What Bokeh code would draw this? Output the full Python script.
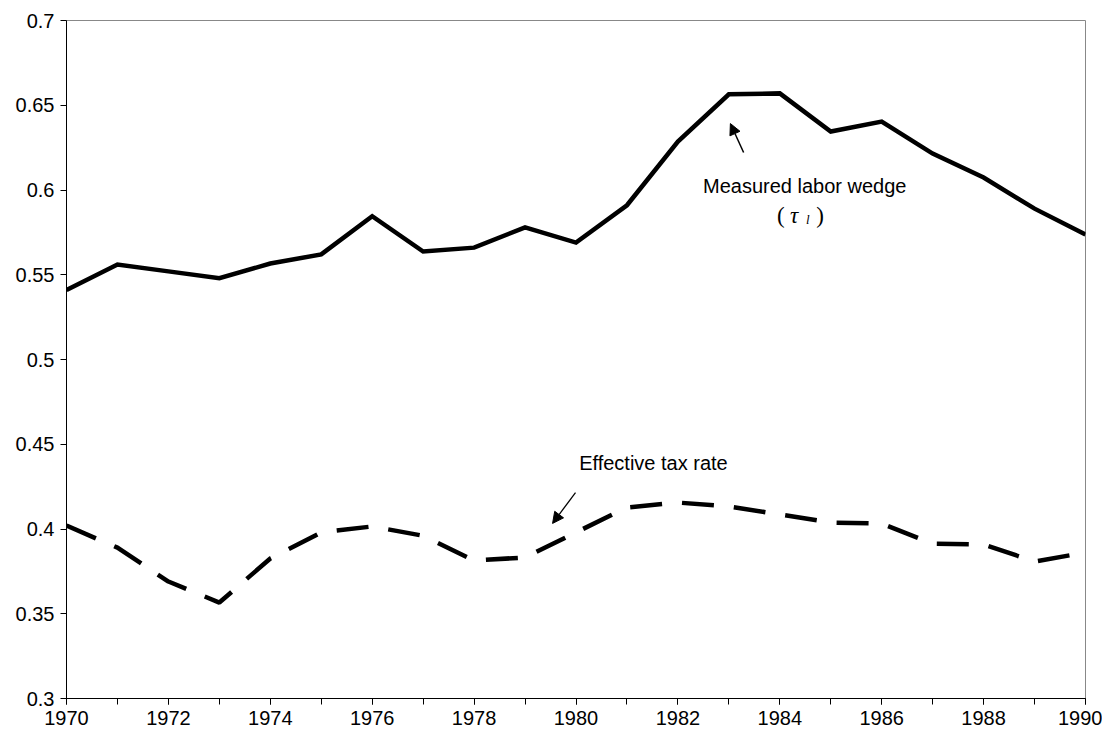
from bokeh.plotting import figure
from bokeh.models import (SingleIntervalTicker, FixedTicker, CustomJSTickFormatter,
                          Arrow, NormalHead, Range1d)
from bokeh.core.properties import value
from bokeh.embed import file_html
from bokeh.resources import INLINE

years = list(range(1970, 1991))
labor_wedge = [0.541, 0.556, 0.552, 0.548, 0.5566, 0.562, 0.5845, 0.5637, 0.566, 0.578,
               0.569, 0.591, 0.6286, 0.6565, 0.657, 0.6345, 0.6404, 0.6215, 0.6074, 0.589, 0.5737]
tax_rate = [0.402, 0.389, 0.369, 0.3566, 0.3826, 0.398, 0.4015, 0.396, 0.3814, 0.3832,
            0.398, 0.4127, 0.4156, 0.4133, 0.4086, 0.4038, 0.4032, 0.3914, 0.3909, 0.3808, 0.3861]
y_ticks = [0.3, 0.35, 0.4, 0.45, 0.5, 0.55, 0.6, 0.65, 0.7]

FONT = "Liberation Sans"

p = figure(width=1102, height=730, output_backend="svg", toolbar_location=None,
           x_range=Range1d(1970, 1990), y_range=Range1d(0.3, 0.7),
           min_border_left=66, min_border_right=17, min_border_top=20, min_border_bottom=32)

p.background_fill_color = "white"
p.border_fill_color = "white"
p.outline_line_color = "#888888"
p.outline_line_width = 1
p.xgrid.visible = False
p.ygrid.visible = False

p.xaxis.ticker = SingleIntervalTicker(interval=2, num_minor_ticks=2)
p.yaxis.ticker = FixedTicker(ticks=y_ticks)
p.yaxis.formatter = CustomJSTickFormatter(code="return String(Math.round(tick*100)/100);")
for ax in (p.xaxis, p.yaxis):
    ax.axis_line_color = "black"
    ax.axis_line_width = 1
    ax.major_tick_line_color = "black"
    ax.minor_tick_line_color = "black"
    ax.major_tick_in = 0
    ax.major_tick_out = 6
    ax.minor_tick_in = 0
    ax.minor_tick_out = 6
    ax.major_label_text_font = FONT
    ax.major_label_text_font_size = "20px"
    ax.major_label_text_color = "black"
p.yaxis.minor_tick_line_color = None
p.xaxis.major_label_standoff = 6
p.yaxis.major_label_standoff = 6

p.line(years, labor_wedge, line_color="black", line_width=4.5, line_join="miter")
p.line(years, tax_rate, line_color="black", line_width=4.5, line_dash="32 20")

# annotations
p.text(x=[1984.49], y=[0.6021], text=["Measured labor wedge"], text_font=value(FONT),
       text_font_size="20px", text_align="center", text_baseline="middle", text_color="black")
p.text(x=[1984.02, 1984.79], y=[0.5850, 0.5850], text=["(", ")"], text_font=value("Liberation Serif"),
       text_font_size="23px", text_align="center", text_baseline="alphabetic", text_color="black")
p.text(x=[1984.28], y=[0.5850], text=["τ"], text_font=value("Liberation Serif"), text_font_style="italic",
       text_font_size="23px", text_align="center", text_baseline="alphabetic", text_color="black")
p.text(x=[1984.55], y=[0.5826], text=["l"], text_font=value("Liberation Serif"), text_font_style="italic",
       text_font_size="13px", text_align="center", text_baseline="alphabetic", text_color="black")
p.text(x=[1981.52], y=[0.4392], text=["Effective tax rate"], text_font=value(FONT),
       text_font_size="20px", text_align="center", text_baseline="middle", text_color="black")

p.add_layout(Arrow(x_start=1983.29, y_start=0.6221, x_end=1983.03, y_end=0.6392,
                   line_color="black", line_width=1.5,
                   end=NormalHead(size=11, fill_color="black", line_color="black")))
p.add_layout(Arrow(x_start=1979.99, y_start=0.4215, x_end=1979.54, y_end=0.4033,
                   line_color="black", line_width=1.3,
                   end=NormalHead(size=11, fill_color="black", line_color="black")))

open("out.html", "w").write(file_html(p, INLINE))
